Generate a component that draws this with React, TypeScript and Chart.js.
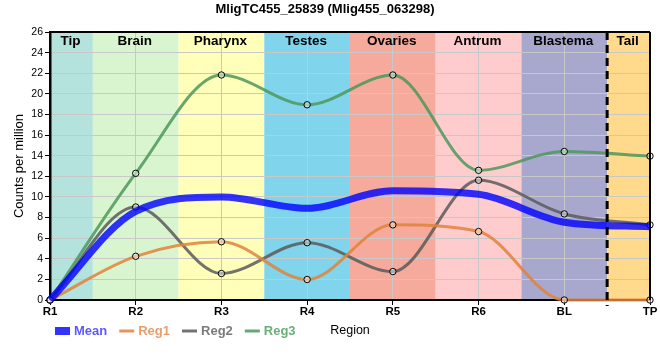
import { useEffect, useRef } from 'react';
import { Chart, registerables } from 'chart.js';

Chart.register(...registerables);

const chartTitle = 'MligTC455_25839 (Mlig455_063298)';
const xLabels = ['R1', 'R2', 'R3', 'R4', 'R5', 'R6', 'BL', 'TP'];
const regionNames = ['Tip', 'Brain', 'Pharynx', 'Testes', 'Ovaries', 'Antrum', 'Blastema', 'Tail'];
const yTickMax = 26;
const yTickStep = 2;

const meanValues = [0, 8.6, 10.0, 8.9, 10.6, 10.25, 7.55, 7.1];
const reg1Values = [0, 4.24, 5.65, 1.99, 7.29, 6.64, 0, 0];
const reg2Values = [0, 9.02, 2.57, 5.56, 2.76, 11.62, 8.35, 7.29];
const reg3Values = [0, 12.29, 21.83, 18.94, 21.83, 12.58, 14.41, 13.96];

const bandColors = [
  'rgb(180,226,220)',
  'rgb(217,245,208)',
  'rgb(255,255,185)',
  'rgb(128,212,236)',
  'rgb(245,170,155)',
  'rgb(255,204,206)',
  'rgb(168,168,206)',
  'rgb(255,217,140)',
];

const FONT = 'Arial, "Liberation Sans", sans-serif';

const decorPlugin = {
  id: 'decor',
  beforeDraw(chart: any) {
    const { ctx, chartArea: a, scales } = chart;
    const x = scales.x;
    const n = xLabels.length;
    ctx.save();
    for (let i = 0; i < n; i++) {
      const l = i === 0 ? a.left : (x.getPixelForValue(i - 1) + x.getPixelForValue(i)) / 2;
      const r = i === n - 1 ? a.right : (x.getPixelForValue(i) + x.getPixelForValue(i + 1)) / 2;
      ctx.fillStyle = bandColors[i];
      ctx.fillRect(l, a.top, r - l, a.bottom - a.top);
    }
    ctx.restore();
  },
  afterDatasetsDraw(chart: any) {
    const { ctx, chartArea: a, scales } = chart;
    const x = scales.x;
    const n = xLabels.length;
    ctx.save();
    ctx.font = `bold 13.5px ${FONT}`;
    ctx.fillStyle = '#000';
    ctx.textAlign = 'center';
    ctx.textBaseline = 'middle';
    for (let i = 0; i < n; i++) {
      const l = i === 0 ? a.left : (x.getPixelForValue(i - 1) + x.getPixelForValue(i)) / 2;
      const r = i === n - 1 ? a.right : (x.getPixelForValue(i) + x.getPixelForValue(i + 1)) / 2;
      ctx.fillText(regionNames[i], (l + r) / 2 - 1, a.top + 9);
    }
    const dx = (x.getPixelForValue(n - 2) + x.getPixelForValue(n - 1)) / 2;
    ctx.strokeStyle = '#000';
    ctx.lineWidth = 3;
    ctx.setLineDash([8, 5]);
    ctx.beginPath();
    ctx.moveTo(dx, a.top);
    ctx.lineTo(dx, a.bottom + 6);
    ctx.stroke();
    ctx.setLineDash([]);
    ctx.lineWidth = 2;
    ctx.beginPath();
    ctx.moveTo(a.left, a.top);
    ctx.lineTo(a.right, a.top);
    ctx.moveTo(a.right, a.top);
    ctx.lineTo(a.right, a.bottom);
    ctx.stroke();
    ctx.restore();
  },
  afterDraw(chart: any) {
    const { ctx, chartArea: a } = chart;
    const y = 331;
    ctx.save();
    ctx.font = `bold 13px ${FONT}`;
    ctx.textBaseline = 'middle';
    ctx.textAlign = 'left';
    let px = 55;
    chart.data.datasets.forEach((ds: any) => {
      if (ds.legendBox) {
        ctx.fillStyle = ds.borderColor;
        ctx.fillRect(px, y - 4, 15, 8);
      } else {
        ctx.strokeStyle = ds.borderColor;
        ctx.lineWidth = 3;
        ctx.beginPath();
        ctx.moveTo(px, y);
        ctx.lineTo(px + 15, y);
        ctx.stroke();
      }
      ctx.fillStyle = ds.legendText;
      ctx.fillText(ds.label, px + 19, y);
      px += 19 + ctx.measureText(ds.label).width + 12;
    });
    ctx.font = `12.5px ${FONT}`;
    ctx.fillStyle = '#000';
    ctx.textAlign = 'center';
    ctx.fillText('Region', (a.left + a.right) / 2, y);
    ctx.restore();
  },
};

export default function App() {
  const ref = useRef<HTMLCanvasElement>(null);
  useEffect(() => {
    if (!ref.current) return;
    const regPoint = {
      pointRadius: 3.2,
      pointHoverRadius: 3.2,
      pointBorderWidth: 1,
      pointBorderColor: '#000',
      pointBackgroundColor: 'rgba(255,255,255,0.45)',
    };
    const chart = new Chart(ref.current, {
      type: 'line',
      data: {
        labels: xLabels,
        datasets: [
          {
            label: 'Mean',
            data: meanValues,
            borderColor: 'rgba(0,0,255,0.8)',
            legendText: 'rgba(60,60,255,0.85)',
            legendBox: true,
            borderWidth: 7,
            pointRadius: 0,
            cubicInterpolationMode: 'monotone',
            clip: false,
          } as any,
          {
            label: 'Reg1',
            data: reg1Values,
            borderColor: 'rgba(225,130,60,0.85)',
            legendText: 'rgba(230,140,80,0.85)',
            borderWidth: 3,
            cubicInterpolationMode: 'monotone',
            clip: false,
            ...regPoint,
          } as any,
          {
            label: 'Reg2',
            data: reg2Values,
            borderColor: 'rgba(90,90,90,0.85)',
            legendText: 'rgba(100,100,100,0.85)',
            borderWidth: 3,
            cubicInterpolationMode: 'monotone',
            clip: false,
            ...regPoint,
          } as any,
          {
            label: 'Reg3',
            data: reg3Values,
            borderColor: 'rgba(76,152,92,0.85)',
            legendText: 'rgba(80,160,100,0.85)',
            borderWidth: 3,
            cubicInterpolationMode: 'monotone',
            clip: false,
            ...regPoint,
          } as any,
        ],
      },
      options: {
        responsive: false,
        animation: false,
        layout: { padding: { left: 0, right: 10, top: 0, bottom: 0 } },
        plugins: {
          legend: { display: false },
          tooltip: { enabled: false },
          title: {
            display: true,
            text: chartTitle,
            color: '#000',
            font: { family: FONT, size: 13, weight: 'bold' },
            padding: { top: 2, bottom: 14.4 },
          },
        },
        scales: {
          x: {
            afterFit: (s: any) => {
              s.height = 60;
              s.paddingLeft = 0;
              s.paddingRight = 0;
            },
            grid: { color: '#c8c8c8', lineWidth: 1, drawTicks: true, tickLength: 5, tickColor: '#000' },
            border: { color: '#000', width: 2 },
            ticks: {
              color: '#000',
              padding: 0,
              font: { family: FONT, size: 11.5, weight: 'bold' },
              maxRotation: 0,
            },
          },
          y: {
            min: 0,
            max: yTickMax,
            afterFit: (s: any) => {
              s.width = 50;
              s.paddingTop = 0;
              s.paddingBottom = 0;
            },
            grid: { color: '#c8c8c8', lineWidth: 1, drawTicks: true, tickLength: 5, tickColor: '#000' },
            border: { color: '#000', width: 2.5 },
            ticks: {
              stepSize: yTickStep,
              color: '#000',
              padding: 2,
              font: { family: FONT, size: 10.5 },
            },
            title: {
              display: true,
              text: 'Counts per million',
              color: '#000',
              font: { family: FONT, size: 13 },
              padding: { top: 12, bottom: 0 },
            },
          },
        },
      } as any,
      plugins: [decorPlugin],
    });
    return () => chart.destroy();
  }, []);
  return (
    <div style={{ position: 'absolute', left: 0, top: 0, width: 660, height: 360 }}>
      <canvas ref={ref} width={660} height={360} style={{ display: 'block' }} />
    </div>
  );
}
